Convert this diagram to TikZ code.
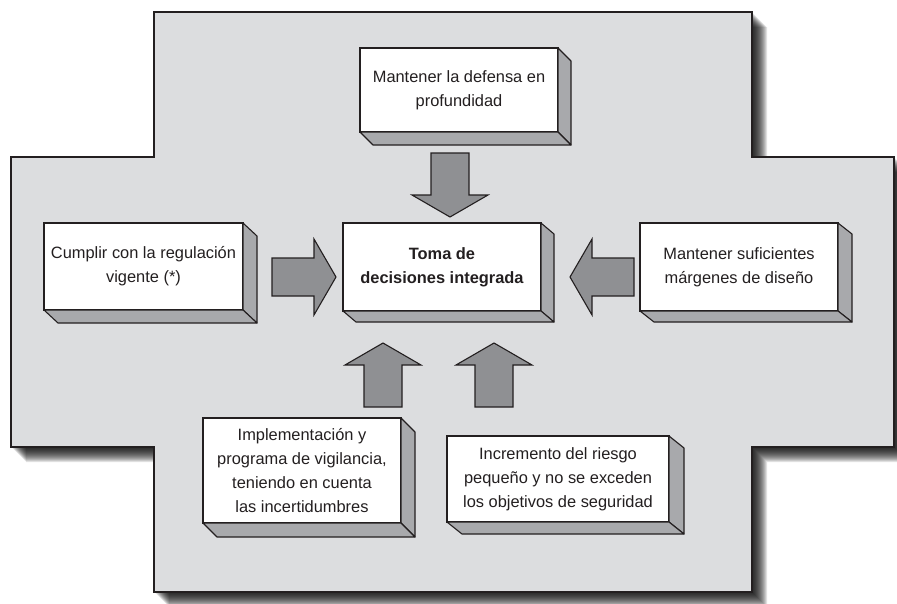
\documentclass[tikz,border=0pt]{standalone}
\usepackage{fontspec}
\setmainfont{Liberation Sans}
\definecolor{ink}{HTML}{231F20}
\definecolor{bgfill}{HTML}{DCDDDF}
\definecolor{sidefill}{HTML}{A8A9AC}
\definecolor{arrowfill}{HTML}{8F9093}
\tikzset{
  box/.style={draw=ink, fill=white, line width=1.1pt, inner sep=0pt, outer sep=0pt,
    align=center, text=ink, font=\fontsize{16.4}{24}\selectfont},
  sideface/.style={draw=ink, fill=sidefill, line width=1.1pt, line join=round},
  blockarrow/.style={draw=ink, fill=arrowfill, line width=1.1pt, line join=miter},
  crossline/.style={draw=ink, fill=bgfill, line width=1.3pt}
}
\newcommand\crosspath{(154,12) -- (752,12) -- (752,157) -- (894,157) -- (894,447) -- (752,447) -- (752,592) -- (154,592) -- (154,447) -- (11,447) -- (11,157) -- (154,157) -- cycle}
\newcommand\boxsides[3]{%
  \filldraw[sideface] (#1.north east) -- ++(#2,#3) -- ([shift={(#2,#3)}]#1.south east) -- (#1.south east) -- cycle;
  \filldraw[sideface] (#1.south west) -- ++(#2,#3) -- ([shift={(#2,#3)}]#1.south east) -- (#1.south east) -- cycle;}
\newcommand\barrow[3]{%
  \begin{scope}[shift={(#1,#2)}, rotate=#3]
    \filldraw[blockarrow] (0,-19) -- (42,-19) -- (42,-38) -- (64,0) -- (42,38) -- (42,19) -- (0,19) -- cycle;
  \end{scope}}
\begin{document}
\begin{tikzpicture}[x=1pt,y=-1pt]
\useasboundingbox (0,0) rectangle (897,603);
\clip (0,0) rectangle (897,603);
% shadow of the cross
\foreach \k in {1,...,15} {
  \fill[black, opacity=0.11, shift={(\k,\k)}] \crosspath;
}
\path[crossline] \crosspath;

% boxes
\node[box, minimum width=198pt, minimum height=84pt] (defensa) at (459,90)
  {Mantener la defensa en\\profundidad};
\node[box, minimum width=198pt, minimum height=88pt] (toma) at (442,267)
  {\bfseries Toma de\\\bfseries decisiones integrada};
\node[box, minimum width=199pt, minimum height=87pt] (cumplir) at (143.5,266.5)
  {Cumplir con la regulación\\vigente (*)};
\node[box, minimum width=198pt, minimum height=88pt] (margenes) at (739,267)
  {Mantener suficientes\\márgenes de diseño};
\node[box, minimum width=198pt, minimum height=105pt] (vigilancia) at (302,470.5)
  {Implementación y\\programa de vigilancia,\\teniendo en cuenta\\las incertidumbres};
\node[box, minimum width=222pt, minimum height=86pt] (riesgo) at (558,479)
  {Incremento del riesgo\\pequeño y no se exceden\\los objetivos de seguridad};

\boxsides{defensa}{13}{13}
\boxsides{toma}{13}{11}
\boxsides{cumplir}{14}{13}
\boxsides{margenes}{14}{11}
\boxsides{vigilancia}{14}{14}
\boxsides{riesgo}{15}{12}

% block arrows
\barrow{450}{153}{-90}
\barrow{272}{277}{0}
\barrow{634}{277}{180}
\barrow{383}{407}{90}
\barrow{494}{407}{90}
\end{tikzpicture}
\end{document}
